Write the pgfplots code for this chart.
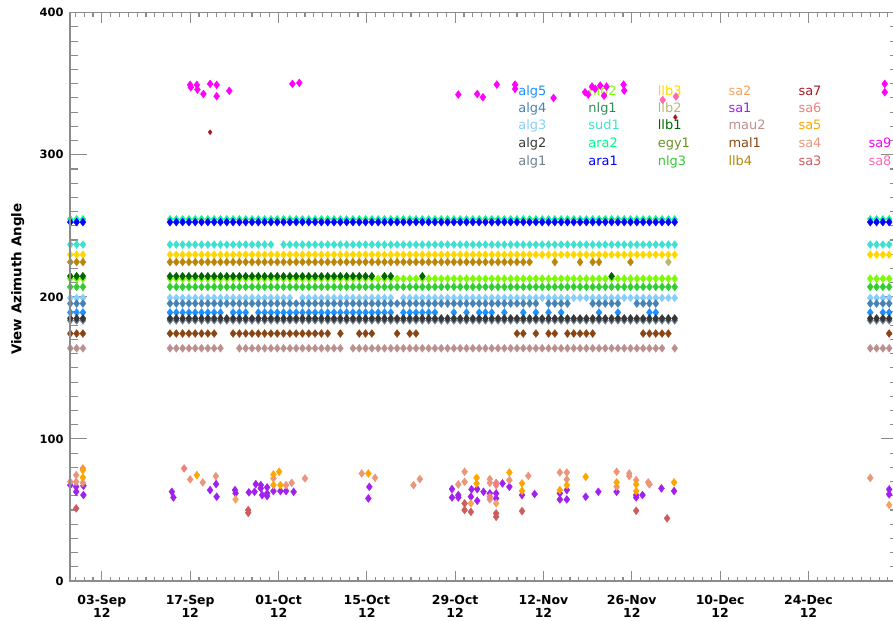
\documentclass[border=0pt]{standalone}
\usepackage{fontspec}
\setmainfont{DejaVu Sans}
\usepackage{pgfplots}
\usepackage{pgfplotstable}
\pgfplotsset{compat=1.18}

\definecolor{algfive}{RGB}{30,144,255}
\definecolor{algfour}{RGB}{70,130,180}
\definecolor{algthree}{RGB}{135,206,250}
\definecolor{algtwo}{RGB}{55,55,55}
\definecolor{algone}{RGB}{112,128,144}
\definecolor{nlgtwo}{RGB}{124,252,0}
\definecolor{nlgone}{RGB}{46,139,87}
\definecolor{sudone}{RGB}{64,224,208}
\definecolor{aratwo}{RGB}{0,250,140}
\definecolor{araone}{RGB}{0,0,255}
\definecolor{llbthree}{RGB}{255,215,0}
\definecolor{llbtwo}{RGB}{189,183,107}
\definecolor{llbone}{RGB}{0,100,0}
\definecolor{egyone}{RGB}{107,142,35}
\definecolor{nlgthree}{RGB}{50,205,50}
\definecolor{satwo}{RGB}{244,164,96}
\definecolor{saone}{RGB}{160,32,240}
\definecolor{mautwo}{RGB}{188,143,143}
\definecolor{malone}{RGB}{139,69,19}
\definecolor{llbfour}{RGB}{184,134,11}
\definecolor{saseven}{RGB}{165,25,35}
\definecolor{sasix}{RGB}{240,128,128}
\definecolor{safive}{RGB}{255,165,0}
\definecolor{safour}{RGB}{233,150,122}
\definecolor{sathree}{RGB}{205,92,92}
\definecolor{sanine}{RGB}{255,0,255}
\definecolor{saeight}{RGB}{255,105,180}
\definecolor{axgray}{RGB}{140,140,140}

\pgfplotstableread{
x a2 a1 sd l3 l4 l1 n2 n3 g3 g4 g5 g2 g1 ml mu
-5.0 254.6 252.6 236.8 229.7 224.5 214.5 212.8 207.0 199.3 195.3 189.0 184.8 183.4 174.2 163.8
-4.0 254.6 252.6 236.8 229.7 224.5 214.5 212.8 207.0 199.3 195.3 189.0 184.8 183.4 174.2 163.8
-3.0 254.6 252.6 236.8 229.7 224.5 214.5 212.8 207.0 199.3 195.3 189.0 184.8 183.4 174.2 163.8
10.8 254.6 252.6 236.8 229.7 224.5 214.5 212.8 207.0 199.3 195.3 189.0 184.8 183.4 174.2 163.8
11.8 254.6 252.6 236.8 229.7 224.5 214.5 212.8 207.0 199.3 195.3 189.0 184.8 183.4 174.2 163.8
12.8 254.6 252.6 236.8 229.7 224.5 214.5 212.8 207.0 199.3 195.3 189.0 184.8 183.4 174.2 163.8
13.8 254.6 252.6 236.8 229.7 224.5 214.5 212.8 207.0 199.3 195.3 189.0 184.8 183.4 174.2 163.8
14.8 254.6 252.6 236.8 229.7 224.5 214.5 212.8 207.0 199.3 195.3 189.0 184.8 183.4 174.2 163.8
15.8 254.6 252.6 236.8 229.7 224.5 214.5 212.8 207.0 199.3 195.3 189.0 184.8 183.4 174.2 163.8
16.8 254.6 252.6 236.8 229.7 224.5 214.5 212.8 207.0 199.3 195.3 189.0 184.8 183.4 174.2 163.8
17.8 254.6 252.6 236.8 229.7 224.5 214.5 212.8 207.0 199.3 195.3 189.0 184.8 183.4 174.2 163.8
18.8 254.6 252.6 236.8 229.7 224.5 214.5 212.8 207.0 199.3 195.3 189.0 184.8 183.4 nan 163.8
19.8 254.6 252.6 236.8 229.7 224.5 214.5 212.8 207.0 199.3 195.3 nan 184.8 183.4 nan nan
20.8 254.6 252.6 236.8 229.7 224.5 214.5 212.8 207.0 199.3 195.3 189.0 184.8 183.4 174.2 nan
21.8 254.6 252.6 236.8 229.7 224.5 214.5 212.8 207.0 199.3 195.3 189.0 184.8 183.4 174.2 163.8
22.8 254.6 252.6 236.8 229.7 224.5 214.5 212.8 207.0 199.3 195.3 189.0 184.8 183.4 174.2 163.8
23.8 254.6 252.6 236.8 229.7 224.5 214.5 212.8 207.0 199.3 195.3 nan 184.8 183.4 174.2 163.8
24.8 254.6 252.6 236.8 229.7 224.5 214.5 212.8 207.0 199.3 195.3 189.0 184.8 183.4 174.2 163.8
25.8 254.6 252.6 236.8 229.7 224.5 214.5 212.8 207.0 199.3 195.3 189.0 184.8 183.4 174.2 163.8
26.8 254.6 252.6 236.8 229.7 224.5 214.5 212.8 207.0 199.3 195.3 189.0 184.8 183.4 174.2 163.8
27.8 254.6 252.6 nan 229.7 224.5 214.5 212.8 207.0 199.3 195.3 189.0 184.8 183.4 174.2 163.8
28.8 254.6 252.6 236.8 229.7 224.5 214.5 212.8 207.0 199.3 195.3 189.0 184.8 183.4 174.2 163.8
29.8 254.6 252.6 236.8 229.7 224.5 214.5 212.8 207.0 199.3 195.3 189.0 184.8 183.4 174.2 163.8
30.8 254.6 252.6 236.8 229.7 224.5 214.5 212.8 207.0 nan 195.3 189.0 184.8 183.4 174.2 163.8
31.8 254.6 252.6 236.8 229.7 224.5 214.5 212.8 207.0 199.3 195.3 189.0 184.8 183.4 174.2 163.8
32.8 254.6 252.6 236.8 229.7 224.5 214.5 212.8 207.0 199.3 195.3 189.0 184.8 183.4 174.2 163.8
33.8 254.6 252.6 236.8 229.7 224.5 214.5 212.8 207.0 199.3 195.3 189.0 184.8 183.4 174.2 163.8
34.8 254.6 252.6 236.8 229.7 224.5 214.5 212.8 207.0 199.3 195.3 189.0 184.8 183.4 174.2 163.8
35.8 254.6 252.6 236.8 229.7 224.5 214.5 212.8 207.0 199.3 195.3 189.0 184.8 183.4 174.2 163.8
36.8 254.6 252.6 236.8 229.7 224.5 214.5 212.8 207.0 199.3 195.3 189.0 184.8 183.4 nan 163.8
37.8 254.6 252.6 236.8 229.7 224.5 214.5 212.8 207.0 199.3 195.3 189.0 184.8 183.4 174.2 163.8
38.8 254.6 252.6 236.8 229.7 224.5 214.5 212.8 207.0 199.3 195.3 189.0 184.8 183.4 nan nan
39.8 254.6 252.6 236.8 229.7 224.5 214.5 212.8 207.0 199.3 195.3 189.0 184.8 183.4 nan 163.8
40.8 254.6 252.6 236.8 229.7 224.5 214.5 212.8 207.0 199.3 195.3 189.0 184.8 183.4 174.2 163.8
41.8 254.6 252.6 236.8 229.7 224.5 214.5 212.8 207.0 199.3 195.3 189.0 184.8 183.4 174.2 163.8
42.8 254.6 252.6 236.8 229.7 224.5 214.5 212.8 207.0 199.3 195.3 189.0 184.8 183.4 174.2 163.8
43.8 254.6 252.6 236.8 229.7 224.5 nan 212.8 207.0 199.3 195.3 189.0 184.8 183.4 nan 163.8
44.8 254.6 252.6 236.8 229.7 224.5 214.5 212.8 207.0 199.3 195.3 189.0 184.8 183.4 nan 163.8
45.8 254.6 252.6 236.8 229.7 224.5 214.5 212.8 207.0 199.3 195.3 189.0 184.8 183.4 nan 163.8
46.8 254.6 252.6 236.8 229.7 224.5 nan 212.8 207.0 nan 195.3 nan 184.8 183.4 174.2 163.8
47.8 254.6 252.6 236.8 229.7 224.5 nan 212.8 207.0 199.3 195.3 189.0 184.8 183.4 nan 163.8
48.8 254.6 252.6 236.8 229.7 224.5 nan 212.8 207.0 199.3 195.3 189.0 184.8 183.4 174.2 163.8
49.8 254.6 252.6 236.8 229.7 224.5 nan 212.8 207.0 199.3 195.3 189.0 184.8 183.4 174.2 163.8
50.8 254.6 252.6 236.8 229.7 224.5 214.5 212.8 207.0 199.3 195.3 189.0 184.8 183.4 nan 163.8
51.8 254.6 252.6 236.8 229.7 224.5 nan 212.8 207.0 199.3 195.3 189.0 184.8 183.4 nan 163.8
52.8 254.6 252.6 236.8 229.7 224.5 nan 212.8 207.0 199.3 195.3 189.0 184.8 183.4 nan 163.8
53.8 254.6 252.6 236.8 229.7 224.5 nan 212.8 207.0 199.3 195.3 nan 184.8 183.4 nan 163.8
54.8 254.6 252.6 236.8 229.7 224.5 nan 212.8 207.0 199.3 195.3 nan 184.8 183.4 nan 163.8
55.8 254.6 252.6 236.8 229.7 224.5 nan 212.8 207.0 199.3 195.3 189.0 184.8 183.4 nan 163.8
56.8 254.6 252.6 236.8 229.7 224.5 nan 212.8 207.0 199.3 195.3 nan 184.8 183.4 nan 163.8
57.8 254.6 252.6 236.8 229.7 224.5 nan 212.8 207.0 199.3 195.3 189.0 184.8 183.4 nan 163.8
58.8 254.6 252.6 236.8 229.7 224.5 nan 212.8 207.0 199.3 195.3 nan 184.8 183.4 nan 163.8
59.8 254.6 252.6 236.8 229.7 224.5 nan 212.8 207.0 199.3 195.3 189.0 184.8 183.4 nan 163.8
60.8 254.6 252.6 236.8 229.7 224.5 nan 212.8 207.0 199.3 195.3 189.0 184.8 183.4 nan 163.8
61.8 254.6 252.6 236.8 229.7 224.5 nan 212.8 207.0 199.3 195.3 189.0 184.8 183.4 nan 163.8
62.8 254.6 252.6 236.8 229.7 224.5 nan 212.8 207.0 199.3 195.3 nan 184.8 183.4 nan 163.8
63.8 254.6 252.6 236.8 229.7 224.5 nan 212.8 207.0 199.3 195.3 189.0 184.8 183.4 nan 163.8
64.8 254.6 252.6 236.8 229.7 224.5 nan 212.8 207.0 199.3 195.3 nan 184.8 183.4 nan 163.8
65.8 254.6 252.6 236.8 229.7 224.5 nan 212.8 207.0 199.3 195.3 nan 184.8 183.4 174.2 163.8
66.8 254.6 252.6 236.8 229.7 224.5 nan 212.8 207.0 199.3 195.3 189.0 184.8 183.4 174.2 163.8
67.8 254.6 252.6 236.8 229.7 224.5 nan 212.8 207.0 199.3 195.3 nan 184.8 183.4 nan 163.8
68.8 254.6 252.6 236.8 229.7 nan nan 212.8 207.0 199.3 195.3 189.0 184.8 183.4 174.2 163.8
69.8 254.6 252.6 236.8 229.7 nan nan 212.8 207.0 199.3 nan nan 184.8 183.4 nan 163.8
70.8 254.6 252.6 236.8 229.7 nan nan 212.8 207.0 199.3 195.3 189.0 184.8 183.4 174.2 163.8
71.8 254.6 252.6 236.8 229.7 224.5 nan 212.8 207.0 199.3 195.3 nan 184.8 183.4 174.2 163.8
72.8 254.6 252.6 236.8 229.7 nan nan 212.8 207.0 199.3 195.3 189.0 184.8 183.4 nan 163.8
73.8 254.6 252.6 236.8 229.7 nan nan 212.8 207.0 199.3 195.3 nan 184.8 183.4 174.2 163.8
74.8 254.6 252.6 236.8 229.7 nan nan 212.8 207.0 199.3 nan nan 184.8 183.4 174.2 163.8
75.8 254.6 252.6 236.8 229.7 224.5 nan 212.8 207.0 199.3 nan nan 184.8 183.4 174.2 163.8
76.8 254.6 252.6 236.8 229.7 nan nan 212.8 207.0 199.3 nan nan 184.8 183.4 174.2 163.8
77.8 254.6 252.6 236.8 229.7 224.5 nan 212.8 207.0 199.3 195.3 nan 184.8 183.4 174.2 163.8
78.8 254.6 252.6 236.8 229.7 224.5 nan 212.8 207.0 199.3 195.3 189.0 184.8 183.4 nan 163.8
79.8 254.6 252.6 236.8 229.7 nan nan 212.8 207.0 199.3 195.3 nan 184.8 183.4 nan 163.8
80.8 254.6 252.6 236.8 229.7 nan 214.5 212.8 207.0 199.3 195.3 nan 184.8 183.4 nan 163.8
81.8 254.6 252.6 236.8 229.7 nan nan 212.8 207.0 199.3 195.3 189.0 184.8 183.4 nan 163.8
82.8 254.6 252.6 236.8 229.7 nan nan 212.8 207.0 199.3 nan nan 184.8 183.4 nan 163.8
83.8 254.6 252.6 236.8 229.7 224.5 nan 212.8 207.0 199.3 nan nan 184.8 183.4 nan 163.8
84.8 254.6 252.6 236.8 229.7 nan nan 212.8 207.0 199.3 195.3 nan 184.8 183.4 nan 163.8
85.8 254.6 252.6 236.8 229.7 nan nan 212.8 207.0 199.3 195.3 nan 184.8 183.4 174.2 163.8
86.8 254.6 252.6 236.8 229.7 nan nan 212.8 207.0 199.3 195.3 189.0 184.8 183.4 174.2 163.8
87.8 254.6 252.6 236.8 229.7 nan nan 212.8 207.0 199.3 195.3 189.0 184.8 183.4 174.2 163.8
88.8 254.6 252.6 236.8 229.7 nan nan 212.8 207.0 199.3 nan nan 184.8 183.4 174.2 163.8
89.8 254.6 252.6 236.8 229.7 nan nan 212.8 207.0 199.3 nan nan 184.8 183.4 174.2 nan
90.8 254.6 252.6 236.8 229.7 nan nan 212.8 207.0 199.3 nan nan 184.8 183.4 nan 163.8
121.8 254.6 252.6 236.8 229.7 nan nan 212.8 207.0 199.3 195.3 189.0 184.8 183.4 nan 163.8
122.8 254.6 252.6 236.8 229.7 nan nan 212.8 207.0 199.3 195.3 nan 184.8 183.4 nan 163.8
123.8 254.6 252.6 236.8 229.7 nan nan 212.8 207.0 199.3 195.3 189.0 184.8 183.4 nan 163.8
124.8 254.6 252.6 236.8 229.7 nan nan 212.8 207.0 199.3 195.3 189.0 184.8 183.4 174.2 163.8
}\bands

\pgfplotsset{
  base/.style={
    width=828bp, height=568.3bp, scale only axis,
    xmin=-5.05, xmax=126.2, ymin=0, ymax=400,
    axis line style={axgray, line width=1.3bp},
    tick style={axgray, line width=1.1bp},
    minor tick style={axgray, line width=1.1bp},
    /pgf/number format/assume math mode=true,
  },
  pt/.style={only marks, mark=diamond*, mark size=4bp, mark options={solid, line width=0.3bp}},
}
\tikzset{leg/.style={anchor=base west, inner sep=0pt, font=\fontsize{13}{15}\selectfont}}

\begin{document}
\begin{tikzpicture}
\begin{axis}[base, name=main,
  xtick=\empty,
  ytick={0,100,200,300,400},
  minor ytick={0,10,...,400},
  major tick length=17bp, minor tick length=8bp,
  yticklabel style={font=\fontsize{11.5}{13}\selectfont\bfseries, xshift=-3bp},
  ylabel={View Azimuth Angle},
  ylabel style={font=\fontsize{13.5}{15}\selectfont\bfseries, at={(axis description cs:-0.063,0.531)}, anchor=center},
]
% legend texts
\node[leg, text=algfive] at (axis cs:66.0,341.6) {alg5};
\node[leg, text=algfour] at (axis cs:66.0,329.9) {alg4};
\node[leg, text=algthree] at (axis cs:66.0,317.5) {alg3};
\node[leg, text=algtwo] at (axis cs:66.0,305.0) {alg2};
\node[leg, text=algone] at (axis cs:66.0,292.8) {alg1};
\node[leg, text=nlgtwo] at (axis cs:77.1,341.6) {nlg2};
\node[leg, text=nlgone] at (axis cs:77.1,329.9) {nlg1};
\node[leg, text=sudone] at (axis cs:77.1,317.5) {sud1};
\node[leg, text=aratwo] at (axis cs:77.1,305.0) {ara2};
\node[leg, text=araone] at (axis cs:77.1,292.8) {ara1};
\node[leg, text=llbthree] at (axis cs:88.1,341.6) {llb3};
\node[leg, text=llbtwo] at (axis cs:88.1,329.9) {llb2};
\node[leg, text=llbone] at (axis cs:88.1,317.5) {llb1};
\node[leg, text=egyone] at (axis cs:88.1,305.0) {egy1};
\node[leg, text=nlgthree] at (axis cs:88.1,292.8) {nlg3};
\node[leg, text=satwo] at (axis cs:99.3,341.6) {sa2};
\node[leg, text=saone] at (axis cs:99.3,329.9) {sa1};
\node[leg, text=mautwo] at (axis cs:99.3,317.5) {mau2};
\node[leg, text=malone] at (axis cs:99.3,305.0) {mal1};
\node[leg, text=llbfour] at (axis cs:99.3,292.8) {llb4};
\node[leg, text=saseven] at (axis cs:110.4,341.6) {sa7};
\node[leg, text=sasix] at (axis cs:110.4,329.9) {sa6};
\node[leg, text=safive] at (axis cs:110.4,317.5) {sa5};
\node[leg, text=safour] at (axis cs:110.4,305.0) {sa4};
\node[leg, text=sathree] at (axis cs:110.4,292.8) {sa3};
\node[leg, text=sanine] at (axis cs:121.5,305.0) {sa9};
\node[leg, text=saeight] at (axis cs:121.5,292.8) {sa8};

% bands
\addplot[pt, color=aratwo] table[x=x, y=a2] {\bands};
\addplot[pt, color=araone] table[x=x, y=a1] {\bands};
\addplot[pt, color=sudone] table[x=x, y=sd] {\bands};
\addplot[pt, color=llbthree] table[x=x, y=l3] {\bands};
\addplot[pt, color=llbfour] table[x=x, y=l4] {\bands};
\addplot[pt, color=nlgtwo] table[x=x, y=n2] {\bands};
\addplot[pt, color=llbone] table[x=x, y=l1] {\bands};
\addplot[pt, color=nlgthree] table[x=x, y=n3] {\bands};
\addplot[pt, color=algthree] table[x=x, y=g3] {\bands};
\addplot[pt, color=algfour] table[x=x, y=g4] {\bands};
\addplot[pt, color=algfive] table[x=x, y=g5] {\bands};
\addplot[pt, color=algone] table[x=x, y=g1] {\bands};
\addplot[pt, color=algtwo] table[x=x, y=g2] {\bands};
\addplot[pt, color=malone] table[x=x, y=ml] {\bands};
\addplot[pt, color=mautwo] table[x=x, y=mu] {\bands};
\addplot[pt, color=llbtwo] coordinates {(89.8,224.5)};

% scattered low values
\addplot[pt, color=saone] coordinates {
(-5.0,67.5) (-4.07,66.3) (-4.07,62.8) (-2.92,67) (-2.92,60.5)
(11.1,62.8) (11.35,58.8)
(17.16,64) (18.11,68.2) (18.2,59.3)
(21.1,64) (21.2,61.7)
(23.3,62.4) (24.2,62.8) (24.4,68.2) (25.2,67.5) (25.2,65.2) (25.4,60.5)
(26.2,65.9) (26.2,61.7) (26.2,59.8)
(27.2,63.3) (28.3,63.3) (29.2,63.3) (30.4,62.8)
(42.4,66.3) (42.25,58.1)
(55.5,64.7) (55.5,58.8) (56.5,60.5) (56.5,58.8)
(58.5,59.3) (58.6,64.5) (59.5,64.7) (59.5,56.5) (60.5,62.8)
(61.5,61.7) (62.5,61.7) (62.5,58.1) (63.5,68.7) (64.6,66.3)
(66.6,60.5) (68.6,61.2)
(72.6,61.7) (72.6,57.4) (73.7,64) (73.7,57.4)
(76.7,59.3) (78.7,62.8) (81.6,62.8)
(84.7,60.5) (84.7,58.8) (85.7,60.5) (88.7,65.2) (90.7,63.3)
(124.8,64.5) (124.8,61)
};
\addplot[pt, color=safour] coordinates {
(-5.02,69.8) (-4.07,74.5) (-4.07,69.8) (-3.01,69.1)
(14.0,71.5) (16.0,69.4) (18.07,73.8)
(27.2,72.2) (29.2,67.5) (30.1,69.1) (32.2,72.2)
(41.2,75.7) (43.3,72.6)
(49.4,67.5) (50.4,71.7)
(56.5,68) (57.5,76.9) (57.5,69.8)
(61.5,71.7) (61.5,69.1) (61.5,57.4)
(64.6,71)
(67.6,74)
(72.6,76.4) (73.7,76.4) (73.7,71.5)
(81.6,76.9) (81.6,66.3) (83.6,75.7) (83.6,73.8) (84.7,71)
(86.6,69.4) (86.8,68)
(121.8,72.5)
};
\addplot[pt, color=sasix] coordinates {
(-3.01,79.2) (13.04,79.2) (62.5,69.1) (62.5,67.5) (61.5,59.3)
};
\addplot[pt, color=safive] coordinates {
(-3.01,78) (-3.01,72.9)
(15.06,74.5)
(27.2,75) (27.2,67.5) (28.1,76.9) (28.3,67.5)
(42.25,75.7)
(59.4,72.6) (59.4,68.7)
(64.6,76.4)
(66.6,68.7) (66.6,63.5)
(72.6,64) (73.7,67.5)
(76.7,73.3)
(81.6,69.4)
(84.7,68) (84.7,63.3)
(90.7,69.4)
};
\addplot[pt, color=satwo] coordinates {
(21.2,57.4) (58.5,54.6) (62.5,54.6) (124.8,53.5)
};
\addplot[pt, color=sathree] coordinates {
(-4.07,51.1) (23.2,49.9) (23.2,48) (57.5,54.6) (57.5,49.9) (58.5,48.7)
(62.5,47.6) (62.5,45.2) (66.6,49.2) (84.7,49.4) (89.6,44.1)
};
% high values
\addplot[pt, color=sanine] coordinates {
(13.99,349.2) (14.1,347.5) (15.06,349.2) (15.15,345.9) (16.1,342.8) (17.16,349.9)
(18.2,349.2) (18.2,341.2) (20.2,345) (30.2,349.9) (31.3,350.6) (56.5,342.4)
(59.5,342.8) (60.4,340.5) (62.6,349.4) (65.5,349.4) (65.5,346.4) (71.6,340)
(76.6,344) (77.1,342.4) (77.7,348) (78.2,346.4) (79,348.7) (79.6,341.6) (80,348)
(82.7,349.4) (82.8,345.2) (124.1,349.9) (124.1,344)
};
\addplot[pt, color=saeight] coordinates {(88.9,338.6) (91,341)};
\addplot[pt, color=saseven, mark size=2.6bp] coordinates {(17.16,315.9) (90.9,326.4)};
\end{axis}

\begin{axis}[base,
  ytick=\empty,
  xtick={0,14,28,42,56,70,84,98,112},
  xticklabels={{03-Sep\\12},{17-Sep\\12},{01-Oct\\12},{15-Oct\\12},{29-Oct\\12},{12-Nov\\12},{26-Nov\\12},{10-Dec\\12},{24-Dec\\12}},
  minor xtick={-4.2,-2.8,...,126},
  major tick length=10bp, minor tick length=4.5bp,
  xticklabel style={font=\fontsize{12.5}{13.5}\selectfont\bfseries, align=center, yshift=-10.5bp},
]
\end{axis}

\pgfresetboundingbox
\path[use as bounding box] ([shift={(-70bp,-40bp)}]main.south west) rectangle ([shift={(-5bp,12.7bp)}]main.north east);
\end{tikzpicture}
\end{document}
